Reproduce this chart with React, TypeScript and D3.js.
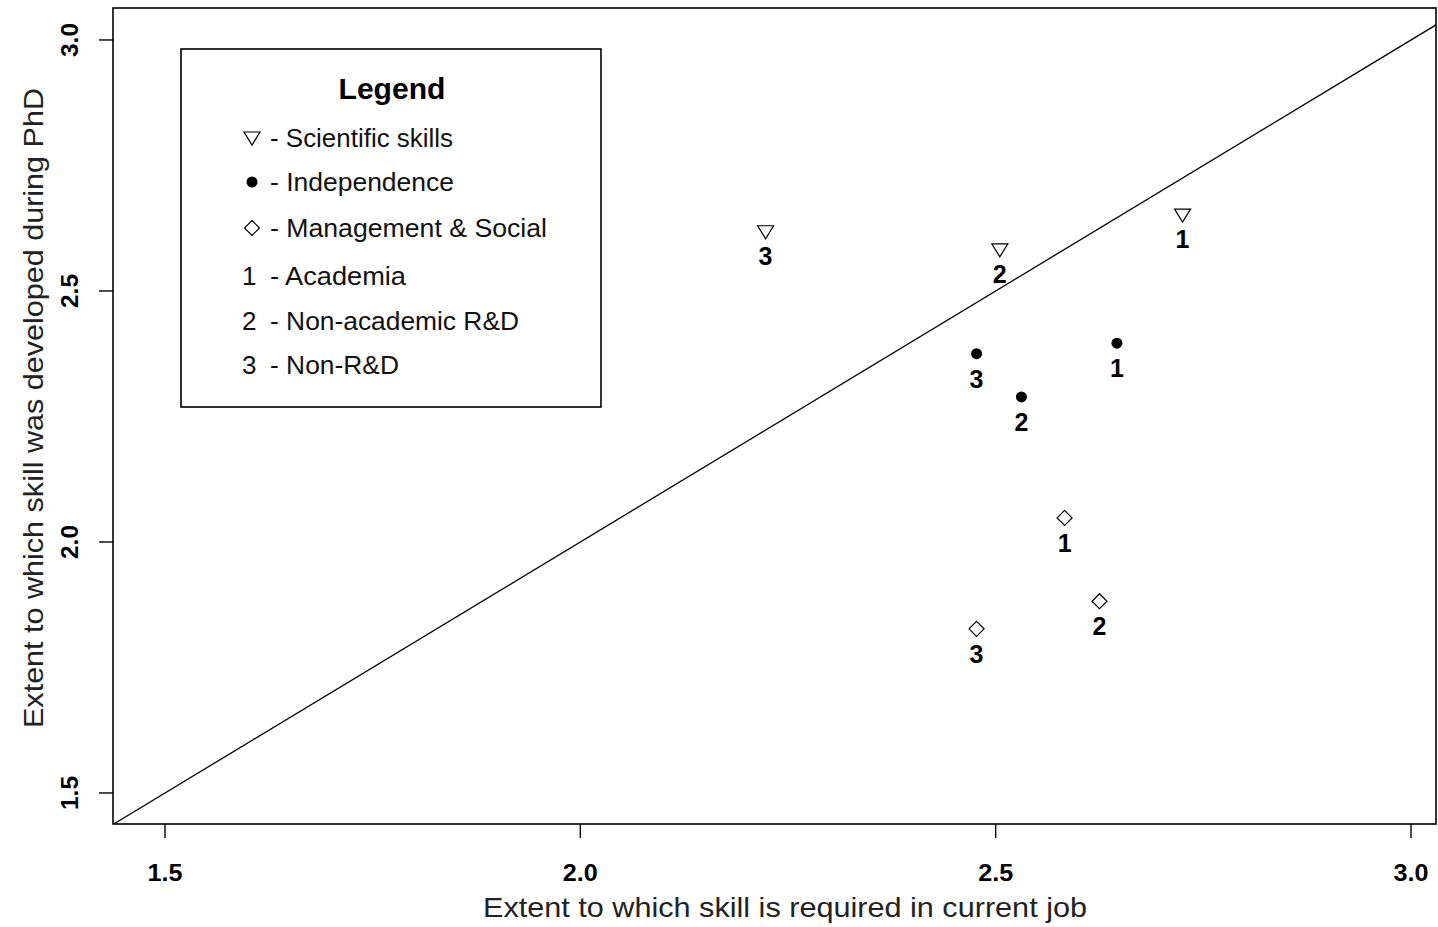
import { useEffect, useRef } from 'react';
import * as d3 from 'd3';

// Skill groups (shape) and job sectors (number label)
const sectors = ['1', '2', '3'];
const scientificX = [2.725, 2.505, 2.223];
const scientificY = [2.653, 2.584, 2.620];
const independenceX = [2.646, 2.531, 2.477];
const independenceY = [2.396, 2.289, 2.375];
const managementX = [2.583, 2.625, 2.477];
const managementY = [2.048, 1.882, 1.827];

const xTicks = [1.5, 2.0, 2.5, 3.0];
const yTicks = [1.5, 2.0, 2.5, 3.0];

const legendShapes = [
  { shape: 'triangle', label: '- Scientific skills', len: 183 },
  { shape: 'circle', label: '- Independence', len: 184 },
  { shape: 'diamond', label: '- Management & Social', len: 277 },
];
const legendSectors = [
  { num: '1', label: '-  Academia', len: 136 },
  { num: '2', label: '- Non-academic R&D', len: 249 },
  { num: '3', label: '- Non-R&D', len: 129 },
];

const W = 1438;
const H = 927;
const FONT = 'Arial, "Liberation Sans", sans-serif';

export default function App() {
  const svgRef = useRef<SVGSVGElement>(null);

  useEffect(() => {
    if (!svgRef.current) return;
    const svg = d3.select(svgRef.current);
    svg.selectAll('*').remove();

    const left = 113, right = 1436, top = 8, bottom = 824;

    const x = d3.scaleLinear().domain([1.4374, 3.0301]).range([left, right]);
    const y = d3.scaleLinear().domain([1.4382, 3.0637]).range([bottom, top]);

    // plot box
    svg.append('rect')
      .attr('x', left).attr('y', top)
      .attr('width', right - left).attr('height', bottom - top)
      .attr('fill', 'none').attr('stroke', '#000').attr('stroke-width', 1.6);

    // x axis ticks
    xTicks.forEach(t => {
      svg.append('line')
        .attr('x1', x(t)).attr('x2', x(t))
        .attr('y1', bottom).attr('y2', bottom + 14)
        .attr('stroke', '#000').attr('stroke-width', 1.4);
      svg.append('text')
        .attr('x', x(t)).attr('y', 881)
        .attr('text-anchor', 'middle')
        .attr('font-family', FONT).attr('font-size', 24).attr('font-weight', 'bold')
        .attr('fill', '#000')
        .attr('textLength', 35).attr('lengthAdjust', 'spacingAndGlyphs')
        .text(t.toFixed(1));
    });

    // y axis ticks
    yTicks.forEach(t => {
      svg.append('line')
        .attr('x1', left - 14).attr('x2', left)
        .attr('y1', y(t)).attr('y2', y(t))
        .attr('stroke', '#000').attr('stroke-width', 1.4);
      svg.append('text')
        .attr('transform', `translate(78, ${y(t)}) rotate(-90)`)
        .attr('text-anchor', 'middle')
        .attr('font-family', FONT).attr('font-size', 24).attr('font-weight', 'bold')
        .attr('fill', '#000')
        .attr('textLength', 34).attr('lengthAdjust', 'spacingAndGlyphs')
        .text(t.toFixed(1));
    });

    // axis titles
    svg.append('text')
      .attr('x', 785).attr('y', 917)
      .attr('text-anchor', 'middle')
      .attr('font-family', FONT).attr('font-size', 28)
      .attr('fill', '#222')
      .attr('textLength', 604).attr('lengthAdjust', 'spacingAndGlyphs')
      .text('Extent to which skill is required in current job');

    svg.append('text')
      .attr('transform', `translate(43, 408) rotate(-90)`)
      .attr('text-anchor', 'middle')
      .attr('font-family', FONT).attr('font-size', 28)
      .attr('fill', '#222')
      .attr('textLength', 640).attr('lengthAdjust', 'spacingAndGlyphs')
      .text('Extent to which skill was developed during PhD');

    // y = x reference line
    const clip = svg.append('defs').append('clipPath').attr('id', 'plot-clip');
    clip.append('rect')
      .attr('x', left).attr('y', top)
      .attr('width', right - left).attr('height', bottom - top);
    svg.append('line')
      .attr('clip-path', 'url(#plot-clip)')
      .attr('x1', x(1.4374)).attr('y1', y(1.4374))
      .attr('x2', x(3.0301)).attr('y2', y(3.0301))
      .attr('stroke', '#000').attr('stroke-width', 1.3);

    // symbols
    const drawShape = (g: d3.Selection<SVGGElement, unknown, null, undefined>, shape: string, cx: number, cy: number) => {
      if (shape === 'triangle') {
        g.append('path')
          .attr('d', `M${cx - 8},${cy - 5} L${cx + 8},${cy - 5} L${cx},${cy + 8} Z`)
          .attr('fill', '#fff').attr('stroke', '#000').attr('stroke-width', 1.2);
      } else if (shape === 'circle') {
        g.append('circle')
          .attr('cx', cx).attr('cy', cy).attr('r', 5.5)
          .attr('fill', '#000');
      } else {
        g.append('path')
          .attr('d', `M${cx},${cy - 7.5} L${cx + 7.5},${cy} L${cx},${cy + 7.5} L${cx - 7.5},${cy} Z`)
          .attr('fill', '#fff').attr('stroke', '#000').attr('stroke-width', 1.2);
      }
    };

    const groups = [
      { shape: 'triangle', xs: scientificX, ys: scientificY },
      { shape: 'circle', xs: independenceX, ys: independenceY },
      { shape: 'diamond', xs: managementX, ys: managementY },
    ];

    const pts = svg.append('g');
    groups.forEach(grp => {
      grp.xs.forEach((xv, i) => {
        const cx = x(xv);
        const cy = y(grp.ys[i]);
        drawShape(pts, grp.shape, cx, cy);
        pts.append('text')
          .attr('x', cx).attr('y', cy + 34)
          .attr('text-anchor', 'middle')
          .attr('font-family', FONT).attr('font-size', 25).attr('font-weight', 'bold')
          .attr('fill', '#000')
          .text(sectors[i]);
      });
    });

    // legend
    const lg = svg.append('g');
    lg.append('rect')
      .attr('x', 181).attr('y', 49)
      .attr('width', 420).attr('height', 358)
      .attr('fill', '#fff').attr('stroke', '#000').attr('stroke-width', 1.6);
    lg.append('text')
      .attr('x', 392).attr('y', 99)
      .attr('text-anchor', 'middle')
      .attr('font-family', FONT).attr('font-size', 30).attr('font-weight', 'bold')
      .attr('fill', '#000')
      .attr('textLength', 107).attr('lengthAdjust', 'spacingAndGlyphs')
      .text('Legend');

    const rowY = [138, 182, 228, 276, 321, 365];
    legendShapes.forEach((d, i) => {
      drawShape(lg, d.shape, 252, rowY[i] + (d.shape === 'triangle' ? -1 : 0));
      lg.append('text')
        .attr('x', 270).attr('y', rowY[i] + 9)
        .attr('font-family', FONT).attr('font-size', 26)
        .attr('fill', '#111')
        .attr('textLength', d.len).attr('lengthAdjust', 'spacingAndGlyphs')
        .text(d.label);
    });
    legendSectors.forEach((d, i) => {
      const ry = rowY[i + 3];
      lg.append('text')
        .attr('x', 242).attr('y', ry + 9)
        .attr('font-family', FONT).attr('font-size', 26)
        .attr('fill', '#111')
        .text(d.num);
      lg.append('text')
        .attr('x', 270).attr('y', ry + 9)
        .attr('font-family', FONT).attr('font-size', 26)
        .attr('fill', '#111')
        .attr('textLength', d.len).attr('lengthAdjust', 'spacingAndGlyphs')
        .text(d.label);
    });
  }, []);

  return (
    <svg
      ref={svgRef}
      width={W}
      height={H}
      style={{ position: 'absolute', left: 0, top: 0, background: '#fff' }}
    />
  );
}
